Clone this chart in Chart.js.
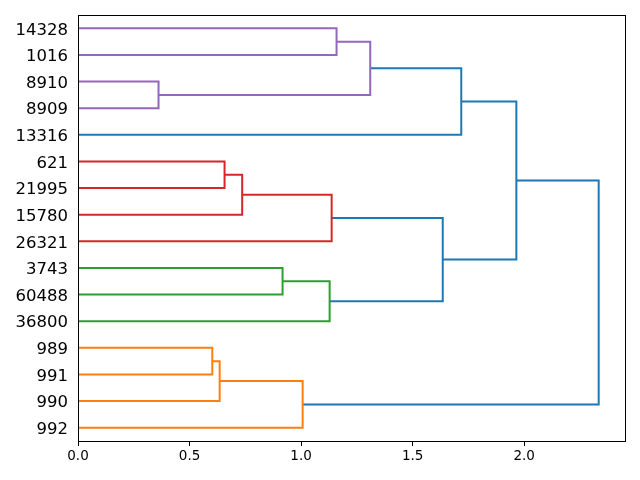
<!DOCTYPE html>
<html>
<head>
<meta charset="utf-8">
<script src="https://cdn.jsdelivr.net/npm/chart.js@4/dist/chart.umd.min.js"></script>
<style>
  html, body { margin: 0; padding: 0; background: #fff; }
  #wrap { width: 640px; height: 480px; }
</style>
</head>
<body>
<div id="wrap"><canvas id="dendro" width="640" height="480"></canvas></div>
<script>
// leaves from bottom to top
const leaves = ["992", "990", "991", "989", "36800", "60488", "3743", "26321",
    "15780", "21995", "621", "13316", "8909", "8910", "1016", "14328"];

// merge i creates cluster id leaves.length + i
const mergeA = [3, 16, 17, 10, 19, 20, 6, 22, 21, 13, 15, 26, 27, 28, 29];
const mergeB = [2, 1, 0, 9, 8, 7, 5, 4, 23, 12, 14, 25, 11, 24, 18];
const mergeHeight = [0.602, 0.635, 1.007, 0.657, 0.736, 1.137, 0.917, 1.128,
    1.635, 0.361, 1.159, 1.310, 1.718, 1.965, 2.334];
const mergeColor = ["C1", "C1", "C1", "C3", "C3", "C3", "C2", "C2",
    "C0", "C4", "C4", "C4", "C0", "C0", "C0"];

const xTicks = [0, 0.5, 1.0, 1.5, 2.0];

const palette = { C0: "#1f77b4", C1: "#ff7f0e", C2: "#2ca02c", C3: "#d62728", C4: "#9467bd" };

const pos = [];
const height = [];
leaves.forEach((l, i) => { pos[i] = 5 + 10 * i; height[i] = 0; });

const datasets = [];
for (let i = 0; i < mergeA.length; i++) {
    const a = mergeA[i], b = mergeB[i], h = mergeHeight[i];
    datasets.push({
        data: [
            { x: height[a], y: pos[a] },
            { x: h, y: pos[a] },
            { x: h, y: pos[b] },
            { x: height[b], y: pos[b] }
        ],
        borderColor: palette[mergeColor[i]],
        borderWidth: 2,
        pointRadius: 0,
        fill: false,
        tension: 0
    });
    pos[leaves.length + i] = (pos[a] + pos[b]) / 2;
    height[leaves.length + i] = h;
}

const frame = {
    id: "frame",
    afterDraw(chart) {
        const { ctx, chartArea: a } = chart;
        ctx.save();
        ctx.strokeStyle = "#000";
        ctx.lineWidth = 1;
        ctx.strokeRect(Math.round(a.left) + 0.5, Math.round(a.top) + 0.5,
            Math.round(a.right - a.left), Math.round(a.bottom - a.top));
        ctx.restore();
    }
};

new Chart(document.getElementById("dendro"), {
    type: "line",
    data: { datasets: datasets },
    options: {
        responsive: false,
        animation: false,
        events: [],
        layout: { padding: { left: 0, right: 15, top: 15, bottom: 0 } },
        plugins: { legend: { display: false }, tooltip: { enabled: false } },
        scales: {
            x: {
                type: "linear",
                min: 0,
                max: 2.452,
                afterBuildTicks: s => { s.ticks = xTicks.map(v => ({ value: v })); },
                afterFit: s => { s.height = 39; },
                ticks: {
                    color: "#000",
                    font: { family: "DejaVu Sans", size: 13.5 },
                    padding: 2,
                    maxRotation: 0,
                    callback: v => v.toFixed(1)
                },
                grid: { drawOnChartArea: false, drawTicks: true, tickLength: 5, color: "#000" },
                border: { color: "#000" }
            },
            y: {
                type: "linear",
                min: 0,
                max: 160,
                afterBuildTicks: s => { s.ticks = leaves.map((_, i) => ({ value: 5 + 10 * i })); },
                afterFit: s => { s.width = 78; s.paddingTop = 0; s.paddingBottom = 0; },
                ticks: {
                    color: "#000",
                    font: { family: "DejaVu Sans", size: 16.5 },
                    padding: 10,
                    labelOffset: 2,
                    autoSkip: false,
                    callback: v => leaves[Math.round((v - 5) / 10)]
                },
                grid: { display: false, drawTicks: false },
                border: { color: "#000" }
            }
        }
    },
    plugins: [frame]
});
</script>
</body>
</html>
